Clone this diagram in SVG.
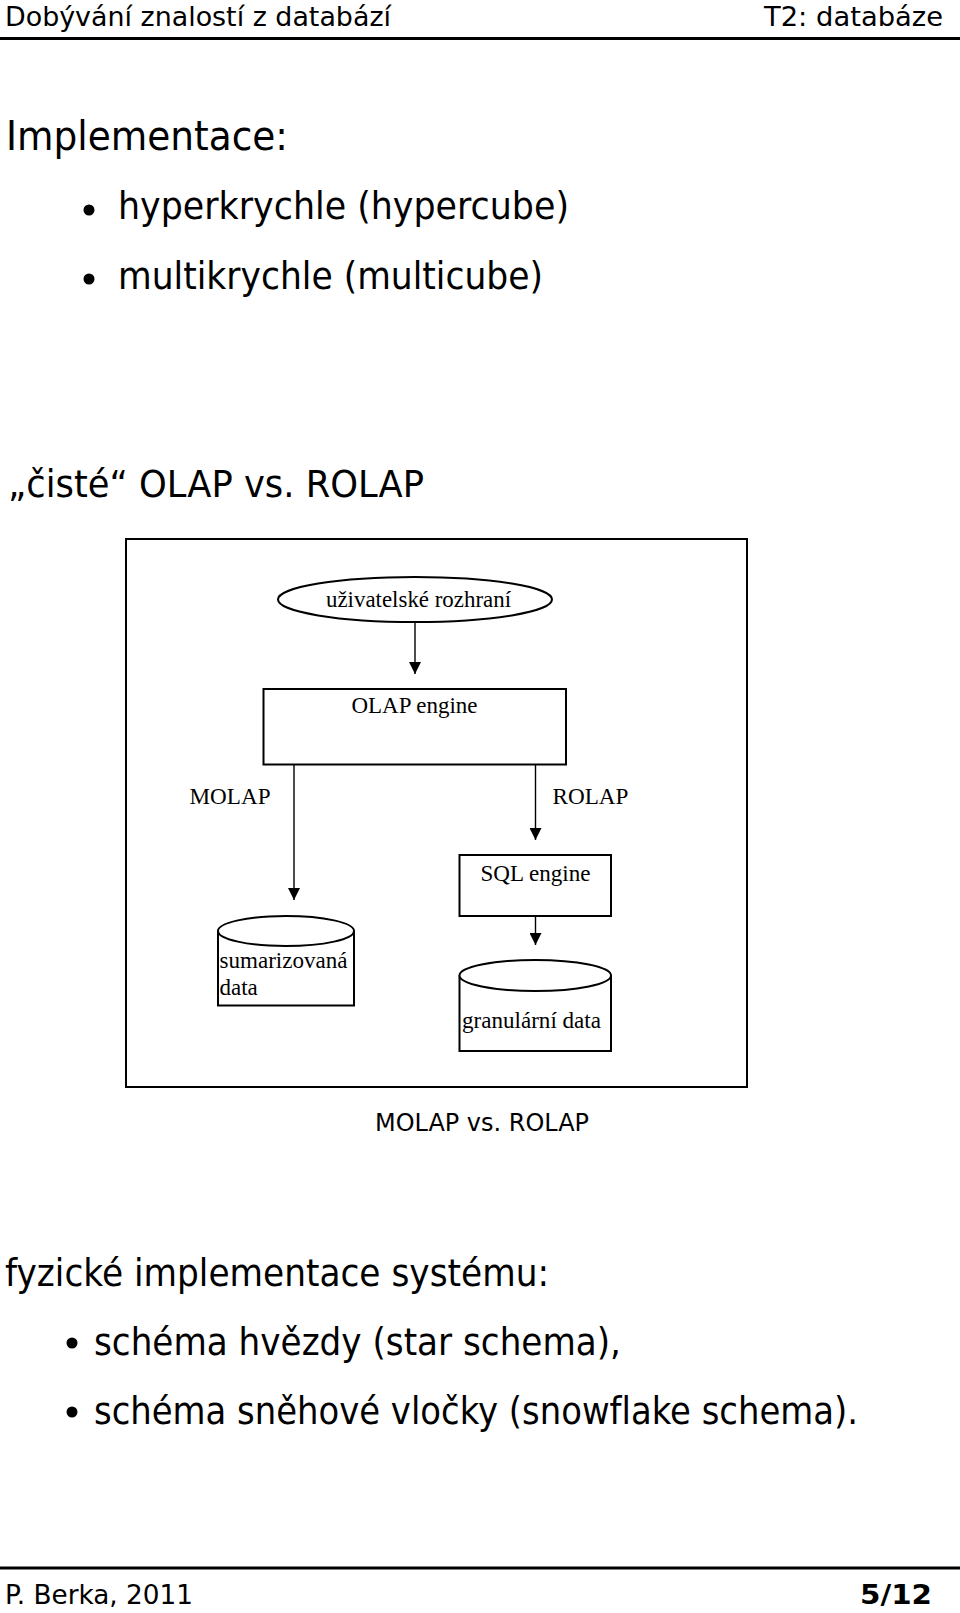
<svg xmlns="http://www.w3.org/2000/svg" width="960" height="1613" viewBox="0 0 960 1613">
<style>
.c{font-family:"Comic Sans MS","DejaVu Sans",sans-serif;fill:#000;font-variant-ligatures:none}
.t{font-family:"Liberation Serif","Times New Roman",serif;font-size:23px;fill:#000}
.shape{fill:#fff;stroke:#000;stroke-width:2}
.edge{fill:none;stroke:#000;stroke-width:1.4}
</style>
<defs>
<marker id="ah" viewBox="0 0 12 12" refX="12" refY="6" markerWidth="12" markerHeight="12" markerUnits="userSpaceOnUse" orient="auto">
<path d="M0,0 L12,6 L0,12 Z" fill="#000"/>
</marker>
</defs>
<rect width="960" height="1613" fill="#fff"/>

<g id="header">
<text class="c" x="5" y="26" font-size="27" textLength="386" lengthAdjust="spacingAndGlyphs">Dobývání znalostí z databází</text>
<text class="c" x="764" y="26" font-size="27" textLength="179" lengthAdjust="spacingAndGlyphs">T2: databáze</text>
<line x1="0" y1="38.5" x2="960" y2="38.5" stroke="#000" stroke-width="3"/>
</g>

<g id="intro">
<text class="c" x="6" y="150" font-size="40" textLength="282" lengthAdjust="spacingAndGlyphs">Implementace:</text>
<circle cx="89" cy="210" r="5.5"/>
<text class="c" x="118" y="219" font-size="37" textLength="451" lengthAdjust="spacingAndGlyphs">hyperkrychle (hypercube)</text>
<circle cx="89" cy="279" r="5.5"/>
<text class="c" x="118" y="289" font-size="37" textLength="425" lengthAdjust="spacingAndGlyphs">multikrychle (multicube)</text>
<text class="c" x="8" y="497" font-size="37" textLength="416" lengthAdjust="spacingAndGlyphs">„čisté“ OLAP vs. ROLAP</text>
</g>

<g id="frame">
<rect x="126" y="539" width="621" height="548" fill="none" stroke="#000" stroke-width="2"/>
</g>

<g id="connectors">
<line class="edge" x1="415" y1="622" x2="415" y2="674" marker-end="url(#ah)"/>
<line class="edge" x1="294" y1="764.5" x2="294" y2="900" marker-end="url(#ah)"/>
<line class="edge" x1="535.5" y1="764.5" x2="535.5" y2="840" marker-end="url(#ah)"/>
<line class="edge" x1="535.5" y1="916" x2="535.5" y2="945" marker-end="url(#ah)"/>
<text class="t" x="189.5" y="803.5" textLength="81" lengthAdjust="spacingAndGlyphs">MOLAP</text>
<text class="t" x="552.5" y="803.5" textLength="76" lengthAdjust="spacingAndGlyphs">ROLAP</text>
</g>

<g id="ui">
<ellipse class="shape" cx="415" cy="599.5" rx="137" ry="22.5"/>
<text class="t" x="418.5" y="607" text-anchor="middle" textLength="185" lengthAdjust="spacingAndGlyphs">uživatelské rozhraní</text>
</g>

<g id="olap-engine">
<rect class="shape" x="263.5" y="689" width="302.5" height="75.5"/>
<text class="t" x="414.5" y="713" text-anchor="middle" textLength="126" lengthAdjust="spacingAndGlyphs">OLAP engine</text>
</g>

<g id="sql-engine">
<rect class="shape" x="459.5" y="855" width="151.5" height="61"/>
<text class="t" x="535.5" y="881" text-anchor="middle" textLength="110" lengthAdjust="spacingAndGlyphs">SQL engine</text>
</g>

<g id="sumarizovana-data">
<path class="shape" d="M218,931 V1005.5 H354 V931"/>
<ellipse class="shape" cx="286" cy="931" rx="68" ry="15"/>
<text class="t" x="219.5" y="968" textLength="128" lengthAdjust="spacingAndGlyphs">sumarizovaná</text>
<text class="t" x="219.5" y="995">data</text>
</g>

<g id="granularni-data">
<path class="shape" d="M459.5,975.5 V1051 H611 V975.5"/>
<ellipse class="shape" cx="535.25" cy="975.5" rx="75.75" ry="15.5"/>
<text class="t" x="462" y="1028" textLength="139" lengthAdjust="spacingAndGlyphs">granulární data</text>
</g>

<g id="caption">
<text class="c" x="375" y="1131" font-size="24" textLength="214" lengthAdjust="spacingAndGlyphs">MOLAP vs. ROLAP</text>
</g>

<g id="physical">
<text class="c" x="5" y="1286" font-size="37" textLength="544" lengthAdjust="spacingAndGlyphs">fyzické implementace systému:</text>
<circle cx="72" cy="1343" r="5.5"/>
<text class="c" x="94" y="1355" font-size="37" textLength="527" lengthAdjust="spacingAndGlyphs">schéma hvězdy (star schema),</text>
<circle cx="72" cy="1412" r="5.5"/>
<text class="c" x="94" y="1424" font-size="37" textLength="764" lengthAdjust="spacingAndGlyphs">schéma sněhové vločky (snowflake schema).</text>
</g>

<g id="footer">
<line x1="0" y1="1568" x2="960" y2="1568" stroke="#000" stroke-width="3"/>
<text class="c" x="5" y="1604" font-size="27" textLength="188" lengthAdjust="spacingAndGlyphs">P. Berka, 2011</text>
<text class="c" x="860" y="1604" font-size="27" font-weight="bold" textLength="72" lengthAdjust="spacingAndGlyphs">5/12</text>
</g>
</svg>
